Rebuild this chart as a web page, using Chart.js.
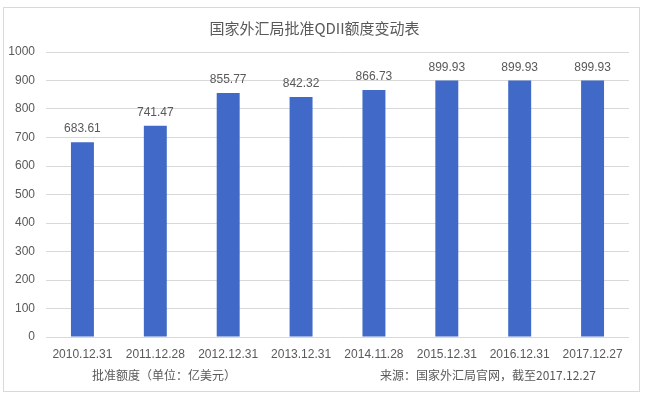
<!DOCTYPE html>
<html>
<head>
<meta charset="utf-8">
<script src="https://cdn.jsdelivr.net/npm/chart.js@4"></script>
<style>
  html, body { margin: 0; padding: 0; background: #fff; }
  #wrap { position: relative; width: 649px; height: 401px; }
  #frame { position: absolute; left: 3px; top: 7px; width: 637px; height: 385px; border: 1px solid #d9d9d9; box-sizing: border-box; pointer-events: none; }
  .note { position: absolute; top: 367px; font: 12px "Noto Sans CJK SC", sans-serif; color: #595959; line-height: 16px; white-space: nowrap; }
  #noteL { left: 92px; }
  #noteR { left: 380px; }
</style>
</head>
<body>
<div id="wrap">
  <canvas id="graph" width="649" height="401"></canvas>
  <div id="frame"></div>
  <div class="note" id="noteL">批准额度（单位：亿美元）</div>
  <div class="note" id="noteR">来源：国家外汇局官网，截至2017.12.27</div>
</div>
<script>
'use strict';

// data
const categories = ['2010.12.31', '2011.12.28', '2012.12.31', '2013.12.31',
                    '2014.11.28', '2015.12.31', '2016.12.31', '2017.12.27'];
const quota = [683.61, 741.47, 855.77, 842.32, 866.73, 899.93, 899.93, 899.93];
const yTicks = [0, 100, 200, 300, 400, 500, 600, 700, 800, 900, 1000];

const textColor = '#595959';
const fontFamily = '"Liberation Sans", "Noto Sans CJK SC", sans-serif';

// value labels above the bars
const valueLabels = {
    id: 'valueLabels',
    afterDatasetsDraw(chart) {
        const ctx = chart.ctx;
        const meta = chart.getDatasetMeta(0);
        ctx.save();
        ctx.font = '12px ' + fontFamily;
        ctx.fillStyle = textColor;
        ctx.textAlign = 'center';
        ctx.textBaseline = 'middle';
        meta.data.forEach(function (bar, i) {
            ctx.fillText(quota[i].toFixed(2), bar.x, bar.y - 13);
        });
        ctx.restore();
    }
};

new Chart('graph', {
    type: 'bar',
    data: {
        labels: categories,
        datasets: [{
            label: '批准额度',
            data: quota,
            backgroundColor: '#4069C8',
            categoryPercentage: 1,
            barPercentage: 0.315
        }]
    },
    options: {
        responsive: false,
        animation: false,
        layout: { padding: { left: 0, right: 20, top: 0, bottom: 34 } },
        plugins: {
            legend: { display: false },
            tooltip: { enabled: false },
            title: {
                display: true,
                text: '国家外汇局批准QDII额度变动表',
                color: textColor,
                font: { size: 15, family: '"Noto Sans CJK SC", sans-serif', weight: 'normal' },
                padding: { top: 19, bottom: 15 }
            }
        },
        scales: {
            x: {
                grid: { display: false },
                border: { display: false },
                ticks: { color: textColor, font: { size: 12, family: fontFamily }, padding: 2, maxRotation: 0 },
                afterFit(scale) { scale.height = 30; }
            },
            y: {
                min: 0,
                max: 1000,
                afterBuildTicks(scale) { scale.ticks = yTicks.map(v => ({ value: v })); },
                grid: { color: '#d9d9d9', drawTicks: false },
                border: { display: false },
                ticks: {
                    color: textColor,
                    font: { size: 12, family: fontFamily },
                    padding: 11,
                    callback: v => String(v)
                },
                afterFit(scale) { scale.width = 46; }
            }
        }
    },
    plugins: [valueLabels]
});
</script>
</body>
</html>
